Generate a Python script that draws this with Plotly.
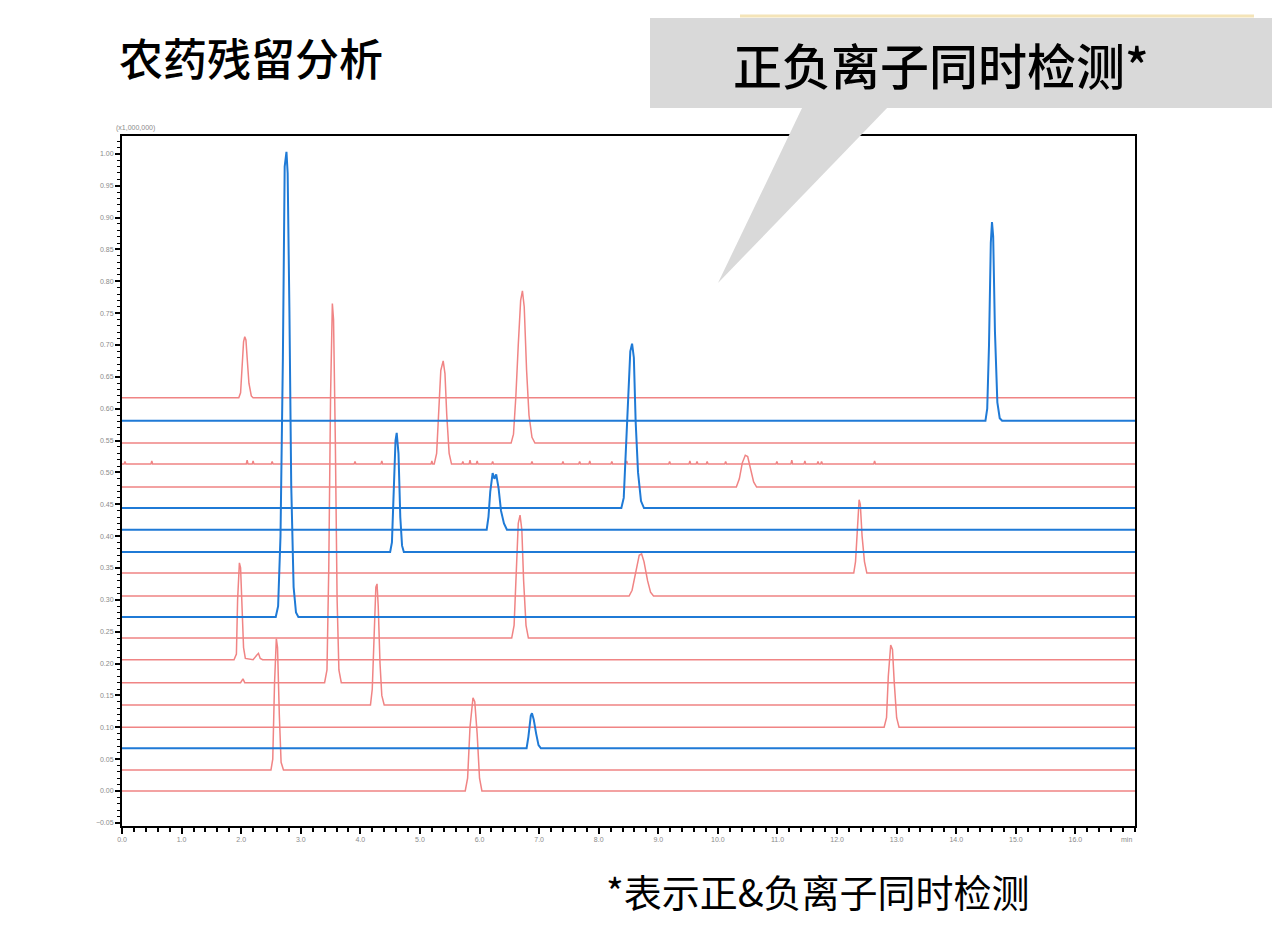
import plotly.graph_objects as go

# ---------------- data ----------------
# baseline level of each chromogram, bottom to top
baselines = [0.000, 0.033, 0.067, 0.100, 0.135, 0.170, 0.206, 0.240, 0.273, 0.306,
             0.342, 0.375, 0.410, 0.444, 0.477, 0.513, 0.546, 0.581, 0.617]
# "red" = pink traces, "blue" = blue traces
trace_kind = ["red", "red", "blue", "red", "red", "red", "red", "red", "blue", "red",
              "red", "blue", "blue", "blue", "red", "red", "red", "blue", "red"]

# peak outline points (time [min], intensity x1,000,000) for each trace
peaks_00 = [(5.76, 0.000), (5.80, 0.020), (5.84, 0.100), (5.89, 0.146), (5.92, 0.140),
            (5.96, 0.090), (6.00, 0.020), (6.04, 0.000)]
peaks_01 = [(2.50, 0.033), (2.53, 0.050), (2.56, 0.170), (2.59, 0.239), (2.61, 0.225),
            (2.64, 0.120), (2.67, 0.045), (2.71, 0.033)]
peaks_02 = [(6.79, 0.067), (6.82, 0.085), (6.86, 0.118), (6.88, 0.122), (6.91, 0.112),
            (6.95, 0.090), (6.99, 0.072), (7.03, 0.067)]
peaks_03 = [(12.79, 0.100), (12.83, 0.115), (12.86, 0.180), (12.90, 0.229), (12.93, 0.222),
            (12.96, 0.170), (13.00, 0.115), (13.04, 0.100)]
peaks_04 = [(4.17, 0.135), (4.20, 0.160), (4.23, 0.260), (4.26, 0.320), (4.28, 0.325),
            (4.30, 0.290), (4.33, 0.200), (4.36, 0.150), (4.40, 0.135)]
peaks_05 = [(1.99, 0.170), (2.03, 0.176), (2.06, 0.170),
            (3.40, 0.170), (3.44, 0.190), (3.47, 0.350), (3.50, 0.620), (3.53, 0.765),
            (3.55, 0.740), (3.58, 0.550), (3.61, 0.300), (3.64, 0.190), (3.68, 0.170)]
peaks_06 = [(1.88, 0.206), (1.92, 0.215), (1.94, 0.300), (1.97, 0.358), (1.99, 0.350),
            (2.01, 0.300), (2.04, 0.225), (2.07, 0.208), (2.20, 0.206), (2.26, 0.213),
            (2.29, 0.216), (2.32, 0.208), (2.36, 0.206)]
peaks_07 = [(6.54, 0.240), (6.58, 0.260), (6.61, 0.340), (6.65, 0.420), (6.68, 0.433),
            (6.71, 0.410), (6.74, 0.330), (6.78, 0.260), (6.82, 0.240)]
peaks_08 = [(2.58, 0.273), (2.62, 0.290), (2.66, 0.400), (2.70, 0.680), (2.73, 0.980),
            (2.76, 1.003), (2.78, 0.970), (2.81, 0.750), (2.84, 0.480), (2.88, 0.320),
            (2.92, 0.280), (2.96, 0.273)]
peaks_09 = [(8.51, 0.306), (8.56, 0.315), (8.62, 0.345), (8.68, 0.370), (8.72, 0.372),
            (8.76, 0.360), (8.82, 0.330), (8.87, 0.312), (8.92, 0.306)]
peaks_10 = [(12.28, 0.342), (12.31, 0.360), (12.34, 0.420), (12.37, 0.457), (12.39, 0.450),
            (12.42, 0.400), (12.46, 0.360), (12.50, 0.342)]
peaks_11 = [(4.50, 0.375), (4.53, 0.390), (4.56, 0.470), (4.59, 0.550), (4.61, 0.562),
            (4.64, 0.530), (4.67, 0.430), (4.70, 0.385), (4.73, 0.375)]
peaks_12 = [(6.12, 0.410), (6.15, 0.430), (6.18, 0.470), (6.22, 0.499), (6.25, 0.490),
            (6.28, 0.497), (6.32, 0.475), (6.36, 0.440), (6.41, 0.420), (6.46, 0.410)]
peaks_13 = [(8.38, 0.444), (8.42, 0.460), (8.45, 0.530), (8.49, 0.620), (8.53, 0.690),
            (8.56, 0.702), (8.59, 0.680), (8.62, 0.580), (8.66, 0.500), (8.71, 0.455),
            (8.76, 0.444)]
peaks_14 = [(10.31, 0.477), (10.36, 0.490), (10.41, 0.515), (10.46, 0.527), (10.50, 0.525),
            (10.55, 0.505), (10.60, 0.485), (10.65, 0.477)]
peaks_15 = [(5.24, 0.513), (5.28, 0.530), (5.31, 0.590), (5.35, 0.660), (5.39, 0.675),
            (5.42, 0.655), (5.45, 0.590), (5.49, 0.530), (5.53, 0.513)]
peaks_16 = [(6.53, 0.546), (6.57, 0.560), (6.61, 0.620), (6.65, 0.700), (6.69, 0.770),
            (6.72, 0.785), (6.75, 0.760), (6.79, 0.660), (6.83, 0.590), (6.88, 0.555),
            (6.93, 0.546)]
peaks_17 = [(14.49, 0.581), (14.52, 0.600), (14.55, 0.700), (14.58, 0.860), (14.60, 0.893),
            (14.62, 0.870), (14.65, 0.720), (14.69, 0.610), (14.73, 0.585), (14.77, 0.581)]
peaks_18 = [(1.96, 0.617), (1.99, 0.625), (2.01, 0.660), (2.04, 0.705), (2.06, 0.713),
            (2.08, 0.708), (2.10, 0.680), (2.13, 0.640), (2.17, 0.620), (2.20, 0.617)]

# small noise spikes on the noisy trace (index 15): time, spike height above baseline
noise_times = [0.05, 0.50, 2.10, 2.20, 2.52, 3.91, 4.36, 5.20, 5.72, 5.84, 5.96, 6.22,
               6.88, 7.40, 7.68, 7.85, 8.22, 8.47, 9.19, 9.53, 9.65, 9.82, 10.13,
               10.99, 11.24, 11.46, 11.68, 11.74, 12.63]
noise_heights = [0.004, 0.005, 0.006, 0.005, 0.004, 0.004, 0.005, 0.005, 0.004, 0.006,
                 0.005, 0.004, 0.004, 0.004, 0.004, 0.005, 0.004, 0.005, 0.004, 0.005,
                 0.004, 0.004, 0.004, 0.004, 0.006, 0.005, 0.004, 0.004, 0.005]

x_tick_values = list(range(0, 17))
x_tick_labels = [f"{v:.1f}" for v in x_tick_values]
run_end = 17.0

all_peaks = [peaks_00, peaks_01, peaks_02, peaks_03, peaks_04, peaks_05, peaks_06,
             peaks_07, peaks_08, peaks_09, peaks_10, peaks_11, peaks_12, peaks_13,
             peaks_14, peaks_15, peaks_16, peaks_17, peaks_18]

RED = "#F08484"
BLUE = "#1F7AD6"

# ---------------- figure ----------------
fig = go.Figure()

def build(idx):
    b = baselines[idx]
    pts = [(0.0, b)] + list(all_peaks[idx]) + [(run_end, b)]
    if idx == 15:
        for t, h in zip(noise_times, noise_heights):
            pts += [(t - 0.015, b), (t, b + h), (t + 0.015, b)]
    pts.sort(key=lambda p: p[0])
    return [p[0] for p in pts], [p[1] for p in pts]

order = [i for i in range(len(baselines)) if trace_kind[i] == "red"] + \
        [i for i in range(len(baselines)) if trace_kind[i] == "blue"]
for i in order:
    xs, ys = build(i)
    red = trace_kind[i] == "red"
    fig.add_trace(go.Scatter(
        x=xs, y=ys, mode="lines",
        line=dict(color=RED if red else BLUE, width=1.5 if red else 2.0),
        hoverinfo="skip", showlegend=False))

# page coordinates of the plot area (the page body has an 8px margin)
OFF = 8
L, R, T, B = 122, 1135, 136, 826
W, H = 1280 - OFF, 947 - OFF

def px(x):
    return (x - L) / (R - L)

def py(y):
    return (B - y) / (B - T)

tick_font = dict(family="Liberation Sans, Arial, sans-serif", size=7, color="#8a8a8a")

fig.update_layout(
    width=W, height=H,
    margin=dict(l=L - OFF, r=W - (R - OFF), t=T - OFF, b=H - (B - OFF), pad=0),
    paper_bgcolor="white", plot_bgcolor="white",
    xaxis=dict(
        range=[0, run_end], tickmode="array", tickvals=x_tick_values, ticktext=x_tick_labels,
        showgrid=False, zeroline=False, showline=True, linecolor="black", linewidth=2,
        mirror=True, ticks="outside", ticklen=6, tickwidth=1.5, tickcolor="black",
        tickfont=tick_font,
        minor=dict(dtick=0.2, tick0=0, ticks="outside", ticklen=4, tickwidth=1.5,
                   tickcolor="black", showgrid=False),
    ),
    yaxis=dict(
        range=[-0.055, 1.028], dtick=0.05, tick0=0, tickformat=".2f",
        showgrid=False, zeroline=False, showline=True, linecolor="black", linewidth=2,
        mirror=True, ticks="outside", ticklen=5, tickwidth=1.5, tickcolor="black",
        tickfont=tick_font,
        minor=dict(dtick=0.01, tick0=0, ticks="outside", ticklen=3, tickwidth=1.2,
                   tickcolor="black", showgrid=False),
    ),
)

cjk = "Noto Sans CJK SC, Noto Sans, sans-serif"

# callout box with pointer
fig.add_shape(type="rect", xref="paper", yref="paper",
              x0=px(650), x1=px(1282), y0=py(108), y1=py(18),
              fillcolor="#D9D9D9", line=dict(width=0), layer="above")
fig.add_shape(type="line", xref="paper", yref="paper",
              x0=px(740), x1=px(1254), y0=py(16), y1=py(16),
              line=dict(color="#F4E4B8", width=3), layer="above")
fig.add_shape(type="path", xref="paper", yref="paper",
              path=f"M {px(803)},{py(106)} L {px(889)},{py(106)} L {px(718)},{py(283)} Z",
              fillcolor="#D9D9D9", line=dict(width=0), layer="above")

fig.add_annotation(xref="paper", yref="paper", x=px(731), y=py(64),
                   xanchor="left", yanchor="middle", showarrow=False,
                   text="正负离子同时检测*",
                   font=dict(family=cjk, size=49, color="black", weight=500))

fig.add_annotation(xref="paper", yref="paper", x=px(117), y=py(57),
                   xanchor="left", yanchor="middle", showarrow=False,
                   text="农药残留分析",
                   font=dict(family=cjk, size=44, color="black", weight=500))

fig.add_annotation(xref="paper", yref="paper", x=px(604), y=py(890),
                   xanchor="left", yanchor="middle", showarrow=False,
                   text="*表示正&负离子同时检测",
                   font=dict(family=cjk, size=38, color="black"))

fig.add_annotation(xref="paper", yref="paper", x=px(114), y=py(128),
                   xanchor="left", yanchor="middle", showarrow=False,
                   text="(x1,000,000)", font=tick_font)

fig.add_annotation(xref="paper", yref="paper", x=px(1134), y=py(839),
                   xanchor="right", yanchor="middle", showarrow=False,
                   text="min", font=tick_font)

fig.write_html("out.html")
